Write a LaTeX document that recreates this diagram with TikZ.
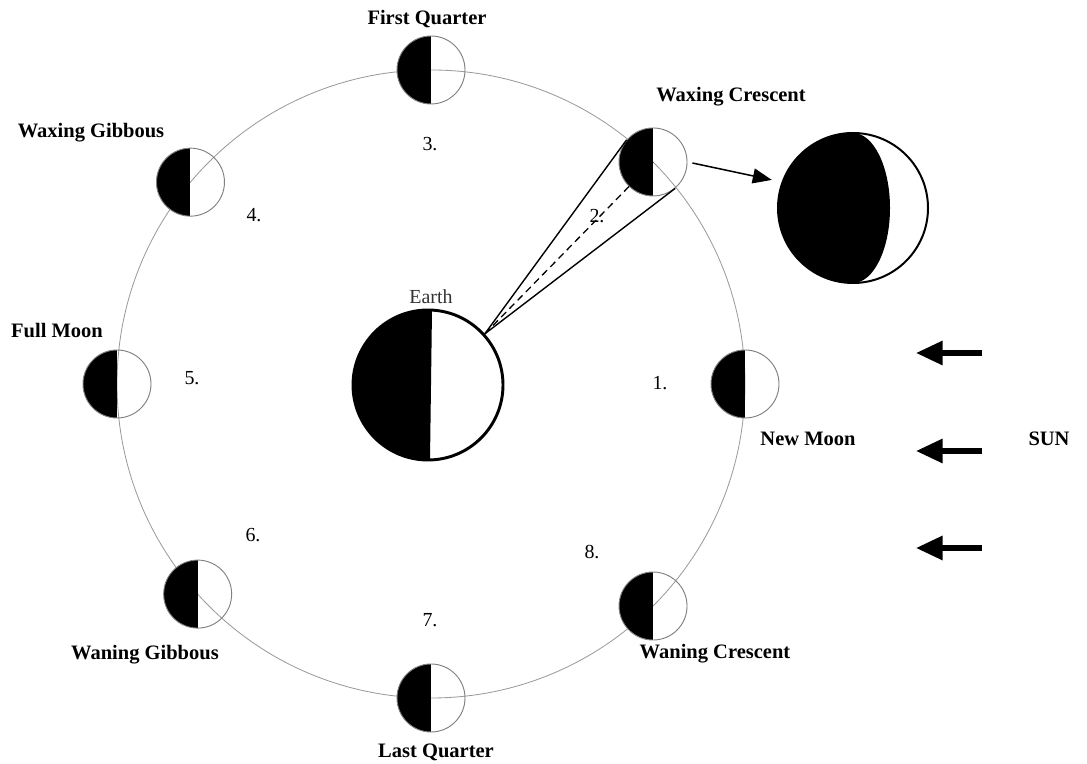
\documentclass[tikz,border=0pt]{standalone}
\usepackage{fontspec}
\setmainfont{Liberation Serif}
\usepackage{tikz}
\usetikzlibrary{arrows.meta}

\tikzset{
	moon/.style={circle,draw=gray,line width=0.8pt,minimum size=2.04cm,inner sep=0pt,
		path picture={\fill[black] (path picture bounding box.north) rectangle (path picture bounding box.south west);}},
	earthbody/.style={circle,draw,line width=2.5pt,minimum size=4.5cm,inner sep=0pt,
		path picture={\fill[black] (path picture bounding box.north west) -- ([xshift=0.12cm]path picture bounding box.north)
			-- ([xshift=0.06cm]path picture bounding box.south) -- (path picture bounding box.south west) -- cycle;}},
	bigmoon/.style={circle,draw,line width=1.7pt,minimum size=4.5cm,inner sep=0pt,
		path picture={\fill[black] (path picture bounding box.north) -- (path picture bounding box.north west)
			-- (path picture bounding box.south west) -- (path picture bounding box.south)
			arc[start angle=-90,end angle=90,x radius=37,y radius=75] -- cycle;}},
	phase/.style={font=\fontsize{17.5}{20}\selectfont\bfseries},
	num/.style={font=\fontsize{17}{20}\selectfont},
	sunray/.style={line width=4.5pt,-{Triangle[length=0.8cm,width=0.7cm]}},
}

\begin{document}
\begin{tikzpicture}[x=0.03cm,y=0.03cm]
		\useasboundingbox (0,0) rectangle (1087,764);
		% orbit
		\coordinate (o) at (431,380);
		\draw[gray!80,line width=0.7pt] (o) circle (314);
		\foreach \a/\n in {0/1,45/2,90/3,140/4,180/5,222/6,270/7,315/8}{
			\node[moon] (m\n) at ([shift={(\a:314)}]o) {};
		};
		\node[earthbody] (earth) at (428,379) {};
		\node[bigmoon] (zoom) at (853,556) {};
		% line of sight to moon 2
		\draw[line width=1.2pt] (earth.42) -- (m2.140);
		\draw[line width=1.2pt] (earth.42) -- (m2.-50);
		\draw[line width=1.1pt,dash pattern=on 6pt off 4pt] (earth.42) -- (m2.center);
		\draw[line width=1.3pt,-{Triangle[length=0.57cm,width=0.45cm]},shorten <=0.15cm,shorten >=0.3cm] (m2.east) -- (zoom.160);
		% sunlight
		\foreach \y [count=\i] in {411,313,216}{
			\coordinate (ray\i) at (982,\y);
			\draw[sunray] (ray\i) -- ++(-66,0);
		};
		\node[font=\fontsize{17.5}{20}\selectfont\bfseries] (sun) at (1049,325) {SUN};
		\node[num,text=black!80] (lbearth) at (431,467) {Earth};
		% phase names
		\node[phase] (lb1) at (808,325) {New Moon};
		\node[phase] (lb2) at (731,667) {Waxing Crescent};
		\node[phase] (lb3) at (427,745) {First Quarter};
		\node[phase] (lb4) at (91,631) {Waxing Gibbous};
		\node[phase] (lb5) at (57,433) {Full Moon};
		\node[phase] (lb6) at (145,109) {Waning Gibbous};
		\node[phase] (lb7) at (436,12) {Last Quarter};
		\node[phase] (lb8) at (715,110) {Waning Crescent};
		% numbers
		\foreach \n/\x/\y in {1/660/381,2/597/548,3/430/620,4/254/549,5/192/386,6/253/229,7/430/144,8/592/212}{
			\node[num] (n\n) at (\x,\y) {\n.};
		};
	\end{tikzpicture}
\end{document}
